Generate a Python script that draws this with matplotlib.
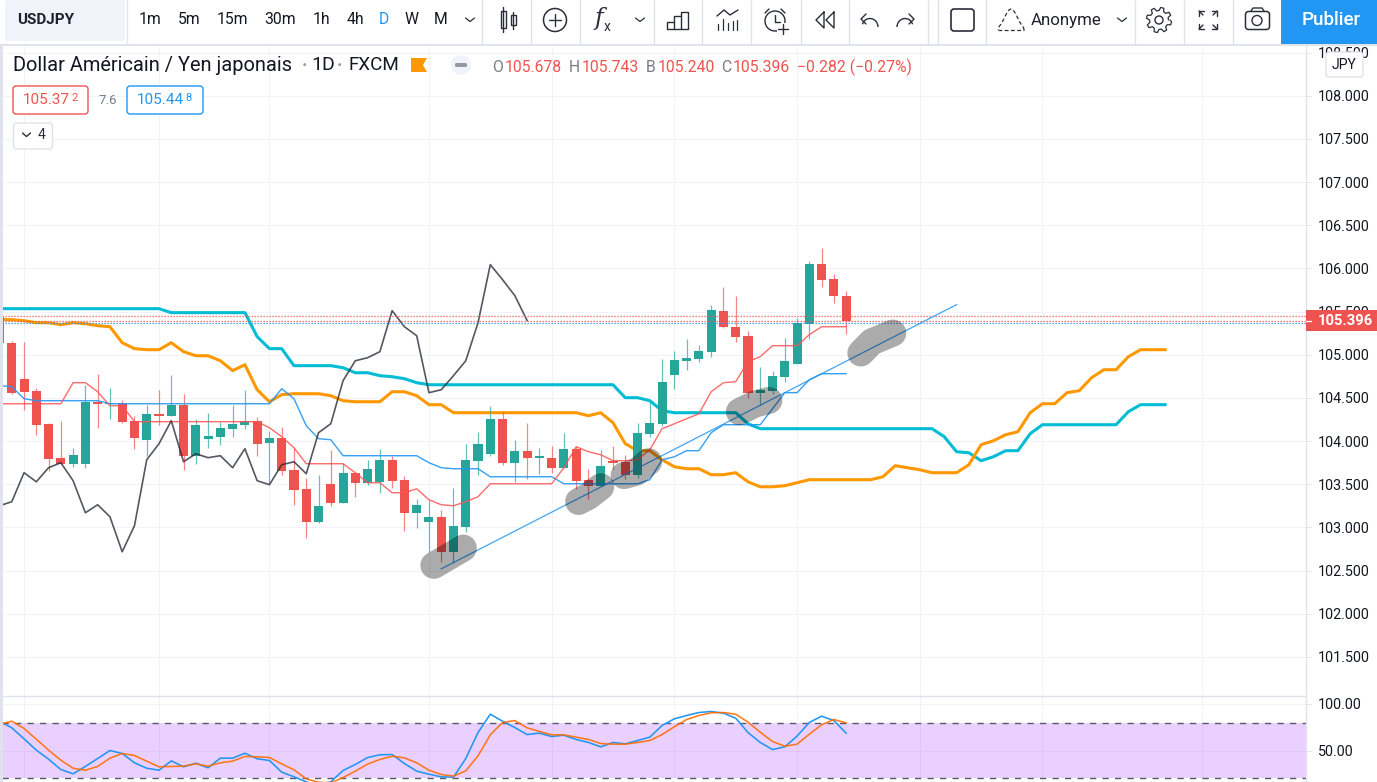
import numpy as np
import matplotlib
matplotlib.use("Agg")
import matplotlib.pyplot as plt
from matplotlib.patches import Rectangle, FancyBboxPatch, Circle, Polygon, Arc

plt.rcParams['font.family'] = ['Roboto', 'DejaVu Sans']

# ---------- data (prices) ----------
opens = [105.440,105.139,104.722,104.583,104.200,103.807,103.737,103.737,104.455,104.432,
         104.444,104.235,104.015,104.316,104.293,104.421,103.830,104.027,104.050,104.143,
         104.189,104.235,103.980,104.038,103.667,103.447,103.065,103.505,103.285,103.633,
         103.517,103.528,103.783,103.552,103.169,103.065,103.123,102.717,103.007,103.772,
         103.853,104.258,103.749,103.888,103.807,103.807,103.691,103.911,103.552,103.482,
         103.772,103.760,103.610,104.085,104.200,104.768,104.930,104.954,105.035,105.510,
         105.324,105.220,104.560,104.583,104.745,104.896,105.359,106.054,105.881,105.678]
highs = [105.452,105.162,105.151,104.618,104.212,104.235,103.922,104.652,104.780,104.618,
         104.479,104.293,104.421,104.594,104.768,104.548,104.258,104.328,104.224,104.421,
         104.594,104.282,104.119,104.166,103.922,103.575,103.610,103.899,103.749,103.633,
         103.783,103.911,103.830,103.598,103.331,103.320,103.204,103.459,103.969,104.108,
         104.409,104.351,104.015,104.212,103.922,103.946,104.096,103.946,103.679,103.899,
         103.946,103.841,104.212,104.455,104.954,105.046,105.185,105.116,105.579,105.788,
         105.684,105.278,104.861,104.815,105.197,105.429,106.089,106.240,105.939,105.743]
lows = [105.139,104.550,104.363,104.073,103.656,103.737,103.702,103.691,104.154,104.258,
        104.212,103.911,103.830,104.189,104.293,103.667,103.737,103.922,103.957,104.050,
        104.143,103.830,103.505,103.610,103.262,102.880,103.053,103.250,103.285,103.355,
        103.494,103.401,103.459,102.961,102.995,102.717,102.601,102.590,102.949,103.610,
        103.830,103.725,103.528,103.563,103.621,103.633,103.691,103.447,103.331,103.482,
        103.679,103.563,103.575,104.050,104.177,104.606,104.826,104.919,104.977,105.313,
        105.151,104.502,104.421,104.548,104.687,104.896,105.185,105.788,105.603,105.240]
closes = [105.139,104.560,104.571,104.189,103.795,103.737,103.841,104.455,104.432,104.444,
          104.224,104.038,104.316,104.293,104.421,103.830,104.189,104.061,104.154,104.200,
          104.235,103.969,104.038,103.656,103.436,103.065,103.250,103.285,103.633,103.517,
          103.679,103.783,103.540,103.169,103.262,103.123,102.717,103.019,103.783,103.969,
          104.258,103.749,103.888,103.807,103.830,103.691,103.911,103.540,103.482,103.714,
          103.749,103.610,104.096,104.212,104.687,104.942,104.965,105.046,105.521,105.324,
          105.209,104.560,104.594,104.757,104.930,105.371,106.054,105.869,105.684,105.396]

cloud_cyan = [105.533]*14 + [105.487]*7 + [105.209,105.070,105.070] + [104.873]*4 + \
    [104.849,104.791,104.791,104.757,104.745,104.722,104.676] + [104.652]*16 + \
    [104.502,104.502,104.467,104.351] + [104.328]*6 + [104.200] + [104.143]*15 + \
    [104.050,103.876,103.864,103.772,103.818,103.888,103.888,104.085] + [104.189]*7 + \
    [104.340,104.421,104.421,104.421]
cloud_orange = [105.406,105.406,105.394,105.371,105.371,105.348,105.371,105.359,105.336,105.324,
    105.139,105.070,105.058,105.058,105.139,105.035,104.988,104.988,104.930,104.815,
    104.884,104.594,104.455,104.537,104.548,104.548,104.548,104.525,104.467,104.455,
    104.455,104.455,104.571,104.571,104.525,104.421,104.421] + [104.328]*11 + \
    [104.293,104.328,104.212,103.969,103.888,103.888,103.783,103.702,103.679,103.679,
     103.610,103.610,103.633,103.528,103.470,103.470,103.482,103.517] + [103.552]*6 + \
    [103.586,103.714,103.691,103.667,103.633,103.633,103.633,103.725,103.957,104.003,
     104.073,104.108,104.328,104.432,104.432,104.560,104.583,104.733,104.826,104.826,
     104.977,105.058,105.058,105.058]
kijun_blue = [104.641,104.629,104.490] + [104.467]*6 + [104.432]*14 + \
    [104.606,104.490,104.177,104.027,104.015] + [103.830]*7 + \
    [103.749,103.691,103.679,103.679,103.679] + [103.586]*6 + [103.505]*7 + \
    [103.552,103.783,103.818,103.888,103.888,104.096] + [104.189]*4 + \
    [104.374,104.560,104.560,104.710,104.780,104.780,104.780]
tenkan_red = [104.432]*6 + [104.676,104.676,104.571,104.409,104.409] + [104.224]*11 + \
    [104.154,104.050,103.922] + [103.737]*4 + \
    [103.633,103.517,103.517,103.401,103.401,103.447,103.320,103.262,103.250,103.297,103.355] + \
    [103.505]*6 + [103.691,103.934,103.876,103.841,103.772,103.772,103.783,103.899,
     104.143,104.200,104.258,104.316,104.571,104.676,104.687,104.919,104.977,
     105.104,105.104,105.104,105.232,105.324,105.324,105.324]
lagging = [103.250,103.297,103.633,103.528,103.691,103.749,103.540,103.169,103.262,103.123,
    102.717,103.019,103.783,103.969,104.235,103.760,103.853,103.807,103.830,103.691,
    103.911,103.540,103.494,103.725,103.760,103.621,104.096,104.200,104.699,104.930,
    104.965,105.035,105.510,105.324,105.220,104.560,104.594,104.757,104.930,105.371,
    106.043,105.869,105.684,105.396]

trend_i = [36.0, 78.0]
trend_p = [102.52, 105.58]
blobs = [([35.4, 37.8], [102.56, 102.76]),
         ([47.2, 48.0, 49.0], [103.30, 103.36, 103.47]),
         ([50.9, 51.9, 52.9], [103.60, 103.64, 103.76]),
         ([60.3, 61.6, 62.7], [104.34, 104.43, 104.47]),
         ([70.2, 71.1, 72.8], [105.02, 105.15, 105.25])]
level_lines = [(105.450, '#ef5350'), (105.396, '#ef5350'), (105.372, '#2196f3')]

rsi_k = [81.4,74.3,62.5,50.4,40.7,29.6,25.0,32.9,41.4,50.0,46.8,36.8,31.0,28.9,38.9,32.5,36.4,31.4,
         41.8,41.8,47.1,41.1,39.3,26.8,21.8,16.4,12.9,16.4,28.6,35.0,42.5,45.4,45.7,36.0,27.9,24.6,
         21.8,21.4,41.4,69.3,88.9,81.4,74.6,67.1,68.6,65.0,66.4,61.8,58.6,53.9,58.6,57.1,60.7,64.3,
         76.8,83.9,87.5,90.7,91.8,90.0,84.6,69.3,58.6,51.0,53.9,65.4,80.0,86.8,82.1,68.6]
rsi_d = [77.9,81.4,73.6,62.1,50.4,39.6,31.0,28.9,32.9,41.8,46.8,44.6,38.6,32.5,32.9,33.2,35.7,33.2,
         36.8,38.6,43.6,43.2,42.5,35.7,29.3,19.6,16.0,15.4,21.0,27.9,35.4,40.4,43.9,42.1,36.8,28.9,
         24.3,22.5,28.2,44.3,66.8,80.0,82.1,74.3,70.4,66.8,66.8,64.3,61.8,57.5,56.8,56.8,58.6,60.7,
         67.1,75.4,83.2,87.5,90.4,90.7,88.9,80.4,69.6,59.6,54.6,56.8,67.5,77.5,83.2,79.6]

grid_bars = [2, 13, 22, 35, 45, 55, 65, 75, 85, 98]
price_ticks = [108.5,108,107.5,107,106.5,106,105.5,105,104.5,104,103.5,103,102.5,102,101.5]
rsi_ticks = [100, 50]
last_close = closes[-1]

# ---------- layout ----------
W, H = 1377, 782
BAR_PX = 12.27
fig = plt.figure(figsize=(W/100, H/100), dpi=100, facecolor='white')

def rect(l, t, r, b):
    return [l/W, 1-b/H, (r-l)/W, (b-t)/H]

GRID = '#f0f3fa'; LINE = '#e0e3eb'; TXT = '#131722'
UP = '#26a69a'; DOWN = '#ef5350'

L, R = 2.0, 1306.0
x0 = (L+0.5)/BAR_PX; x1 = (R+0.5)/BAR_PX
ax = fig.add_axes(rect(L, 45, R, 696))
ax.set_xlim(x0, x1)
Y105, PXU = 354.7, 86.33
ax.set_ylim(105+(Y105-696)/PXU, 105+(Y105-45)/PXU)

rs = fig.add_axes(rect(L, 697, R, 782))
rs.set_xlim(x0, x1)
rs.set_ylim(20-(782-778.5)/0.9333, 80+(722.5-697)/0.9333)

for a in (ax, rs):
    for s in ('top', 'left', 'bottom'):
        a.spines[s].set_visible(False)
    a.spines['right'].set_color(LINE)
    a.spines['right'].set_linewidth(1.0)
    a.set_xticks(grid_bars)
    a.tick_params(axis='x', length=0, labelbottom=False)
    a.yaxis.tick_right()
    a.tick_params(axis='y', length=3.6, width=0.72, color=LINE, labelcolor=TXT, labelsize=10.3, pad=5)
    a.grid(True, color=GRID, lw=0.72)
    a.set_axisbelow(True)

ax.set_yticks(price_ticks)
ax.set_yticklabels([f'{t:.3f}' for t in price_ticks])
rs.set_yticks(rsi_ticks)
rs.set_yticklabels([f'{t:.2f}' for t in rsi_ticks])

# ---------- main pane ----------
idx = np.arange(len(closes))
o, h, l_, c = map(np.array, (opens, highs, lows, closes))
cols = np.where(c >= o, UP, DOWN)
ax.plot(np.arange(len(cloud_cyan)), cloud_cyan, color='#00bcd4', lw=2.2, zorder=2, solid_joinstyle='round')
ax.plot(np.arange(len(cloud_orange)), cloud_orange, color='#ff9800', lw=2.2, zorder=2, solid_joinstyle='round')
ax.vlines(idx, l_, h, colors=cols, lw=0.9, zorder=3, alpha=0.7)
ax.bar(idx, np.maximum(np.abs(c-o), 0.012), bottom=np.minimum(o, c), width=0.74, color=cols, lw=0, zorder=4)
ax.plot(np.arange(len(kijun_blue)), kijun_blue, color='#2196f3', lw=1.0, alpha=0.9, zorder=5)
ax.plot(np.arange(len(tenkan_red)), tenkan_red, color='#ff5252', lw=1.0, alpha=0.85, zorder=5)
ax.plot(np.arange(len(lagging)), lagging, color='#2a2e39', lw=1.2, alpha=0.8, zorder=5)
for p, col in level_lines:
    ax.axhline(p, color=col, lw=0.9, ls=(0, (1, 1.4)), zorder=6)
ax.plot(trend_i, trend_p, color='#2196f3', lw=0.9, alpha=0.85, zorder=6)
for bx, by in blobs:
    ax.plot(bx, by, color='black', alpha=0.33, lw=19.5, solid_capstyle='round', solid_joinstyle='round', zorder=7)

# ---------- RSI pane ----------
rs.axhspan(20, 80, color='#9915ff', alpha=0.2, lw=0, zorder=1)
rs.axhline(80, color='#555a66', lw=1.0, ls=(0, (4.5, 4.5)), zorder=2)
rs.axhline(20, color='#555a66', lw=1.0, ls=(0, (4.5, 4.5)), zorder=2)
rs.plot(idx, rsi_k, color='#2196f3', lw=1.15, zorder=3)
rs.plot(idx, rsi_d, color='#ff6d00', lw=1.15, alpha=0.9, zorder=4)

# ---------- chrome overlay (pixel coordinates) ----------
ov = fig.add_axes([0, 0, 1, 1], zorder=20, facecolor='none')
ov.set_xlim(0, W); ov.set_ylim(H, 0); ov.axis('off')

def ln(xs, ys, lw=1.0, col='#2a2e39', **kw):
    ov.plot(xs, ys, color=col, lw=lw, solid_capstyle='round', solid_joinstyle='round', **kw)
def box(x, y, w, h, fc='white', ec='none', lw=1.0, r=0):
    if r:
        ov.add_patch(FancyBboxPatch((x+r, y+r), w-2*r, h-2*r, boxstyle=f'round,pad={r},rounding_size={r}',
                                    fc=fc, ec=ec, lw=lw, mutation_aspect=1))
    else:
        ov.add_patch(Rectangle((x, y), w, h, fc=fc, ec=ec, lw=lw))
def tx(x, y, s, size=10.3, col=TXT, ha='left', **kw):
    ov.text(x, y, s, fontsize=size, color=col, ha=ha, va='center', **kw)

# left strip, header, panes separator
box(0, 44, 2.5, 738, fc=LINE)
box(0, 0, W, 44, fc='white')
ln([0, W], [44.5, 44.5], lw=1.4, col=LINE)
ln([0, 1306], [696.3, 696.3], lw=1.0, col=LINE)
box(5, 0, 120, 41, fc='#f0f3fa', r=2)
tx(17, 20, 'USDJPY', size=11, weight='bold', col='#1e222d')
for sx in [127, 482, 531, 580, 654, 702, 751, 801, 849, 927.5, 937.5, 986, 1135, 1184, 1233]:
    ln([sx, sx], [0, 43.5], lw=1.0, col=LINE)

for sx, lab, col in [(150, '1m', TXT), (189, '5m', TXT), (232, '15m', TXT), (280, '30m', TXT), (321, '1h', TXT),
                     (355, '4h', TXT), (384, 'D', '#2196f3'), (412, 'W', TXT), (441, 'M', TXT)]:
    tx(sx, 20, lab, size=11.3, col=col, ha='center')

def chevron(x, y=18, w=4.5, h=3.5, lw=0.9):
    ln([x-w, x, x+w], [y, y+h, y], lw=lw)
chevron(470); chevron(640); chevron(1122)

# candle icon
ln([503.3, 503.3], [7, 32]); ov.add_patch(Rectangle((500.7, 11), 5.3, 17, fc='white', ec='#2a2e39', lw=1))
ln([513.3, 513.3], [12, 29]); ov.add_patch(Rectangle((510.7, 15), 5.3, 10, fc='white', ec='#2a2e39', lw=1))
# add-indicator circle
ov.add_patch(Circle((555, 20), 11.5, fc='none', ec='#2a2e39', lw=1.1))
ln([549, 561], [20, 20]); ln([555, 555], [14, 26])
# fx
ov.text(599, 19, 'f', fontsize=17, family='DejaVu Serif', style='italic', color='#2a2e39', ha='center', va='center')
tx(607, 27, 'x', size=10, col='#2a2e39', ha='center')
# bars icon
ln([667, 667, 674, 674, 681, 681, 688, 688, 667], [29, 22, 22, 16, 16, 12, 12, 29, 29])
ln([674, 674], [22, 29]); ln([681, 681], [16, 29])
# indicators icon
ln([717, 724, 730, 738], [16, 10, 15, 10])
for ix, iy in [(718, 24), (723, 19), (728, 23), (733, 21), (737, 20)]:
    ln([ix, ix], [iy, 30], lw=0.9)
# alarm
ov.add_patch(Circle((775, 21), 10, fc='none', ec='#2a2e39', lw=1))
ln([775, 775, 780], [15, 22, 22]); ln([769, 765], [9, 13]); ln([781, 785], [9, 13])
box(777, 23, 11, 11, fc='white')
ln([778, 788], [29, 29]); ln([783, 783], [24, 34])
# rewind
ln([824, 816, 824, 824], [12, 20, 28, 12]); ln([834, 826, 834, 834], [12, 20, 28, 12])
# undo / redo
ov.add_patch(Arc((870, 27), 16, 17, theta1=200, theta2=360, ec='#2a2e39', lw=1))
ln([866, 861, 866], [14, 19, 24])
ov.add_patch(Arc((905, 27), 16, 17, theta1=180, theta2=340, ec='#2a2e39', lw=1))
ln([909, 914, 909], [14, 19, 24])
# square
ov.add_patch(FancyBboxPatch((953, 11), 19, 18, boxstyle='round,pad=2,rounding_size=3', fc='none', ec='#2a2e39', lw=1.2))
# cloud (dashed)
t = np.linspace(0, np.pi, 30)
ov.plot(1011+13*np.cos(t), 30-8*np.sin(t)-13*np.sin(t)**6, color='#2a2e39', lw=0.9, ls=(0, (3, 2)))
ov.plot([998, 1024], [30, 30], color='#2a2e39', lw=0.9, ls=(0, (3, 2)))
tx(1031, 20, 'Anonyme', size=12.2, col='#1e222d')
# gear
ang = np.linspace(0, 2*np.pi, 49)
rad = 11 + 1.6*np.sign(np.sin(8*ang))
ln(1159+rad*np.cos(ang), 20+rad*np.sin(ang), lw=0.9)
ov.add_patch(Circle((1159, 20), 4, fc='none', ec='#2a2e39', lw=1))
# fullscreen
for sx, sy in [(-1, -1), (1, -1), (-1, 1), (1, 1)]:
    cx, cy = 1208+sx*9, 20+sy*9
    ln([cx-sx*5, cx, cx], [cy, cy, cy-sy*5], lw=1)
    ln([cx, cx-sx*4], [cy, cy-sy*4], lw=1)
# camera
ov.add_patch(FancyBboxPatch((1247, 13), 21, 15, boxstyle='round,pad=1.5,rounding_size=3', fc='none', ec='#2a2e39', lw=1.1))
ov.add_patch(Circle((1257, 20.5), 5, fc='none', ec='#2a2e39', lw=1))
ln([1251, 1253, 1262, 1264], [11, 8, 8, 11], lw=1)
# publish
box(1281, 0, 96, 44, fc='#2196f3')
tx(1331, 20, 'Publier', size=13.5, col='white', ha='center', weight='medium')

# legend line
tx(13, 65.5, 'Dollar Américain / Yen japonais', size=14.4, col='#131722')
tx(302, 65.5, '·', size=13, col='#9598a1', weight='bold')
tx(311, 65.5, '1D', size=14)
tx(337, 65.5, '·', size=13, col='#9598a1', weight='bold')
tx(349, 65.5, 'FXCM', size=13.6)
ov.add_patch(Polygon([(411, 58), (427, 58), (423, 65), (427, 72), (411, 72)], fc='#ff9800', ec='none'))
ov.add_patch(Circle((461, 65), 10, fc='#f0f3fa', ec='none'))
box(455, 63, 12, 4, fc='#9598a1', r=1.5)
RED = '#ef5350'; GR = '#787b86'
for x, s, col in [(492, 'O', GR), (505, '105.678', RED), (569, 'H', GR), (582, '105.743', RED),
                  (646, 'B', GR), (658, '105.240', RED), (721, 'C', GR), (733, '105.396', RED),
                  (797, '−0.282 (−0.27%)', RED)]:
    tx(x, 67, s, size=11.3, col=col)

# buy/sell boxes
box(13, 86, 75, 28, fc='white', ec=RED, r=3)
tx(23, 100.5, '105.37', size=11, col=RED); tx(71, 98, '2', size=8, col=RED)
tx(99, 100.5, '7.6', size=9.6, col=GR)
box(127, 86, 76, 28, fc='white', ec='#2196f3', r=3)
tx(137, 100.5, '105.44', size=11, col='#2196f3'); tx(185, 98, '8', size=8, col='#2196f3')
box(13.5, 123, 39, 26, fc='white', ec=LINE, r=3)
chevron(26.5, 133, 4, 3.5, 1.0)
tx(38, 135, '4', size=10, col='#2a2e39')

# JPY chip
box(1326, 52, 37, 25, fc='white', ec=LINE, r=3)
tx(1344.5, 65, 'JPY', size=10, ha='center')

# last-price tag: rectangle drawn at close value
yc = Y105-(last_close-105)*PXU
box(1306, yc-10.5, 71, 21, fc=RED)
ln([1306, 1311], [yc, yc], lw=1, col='white')
tx(1318, yc, f'{last_close:.3f}', size=10.6, col='white', weight='bold')

fig.savefig('out.png', dpi=100)
